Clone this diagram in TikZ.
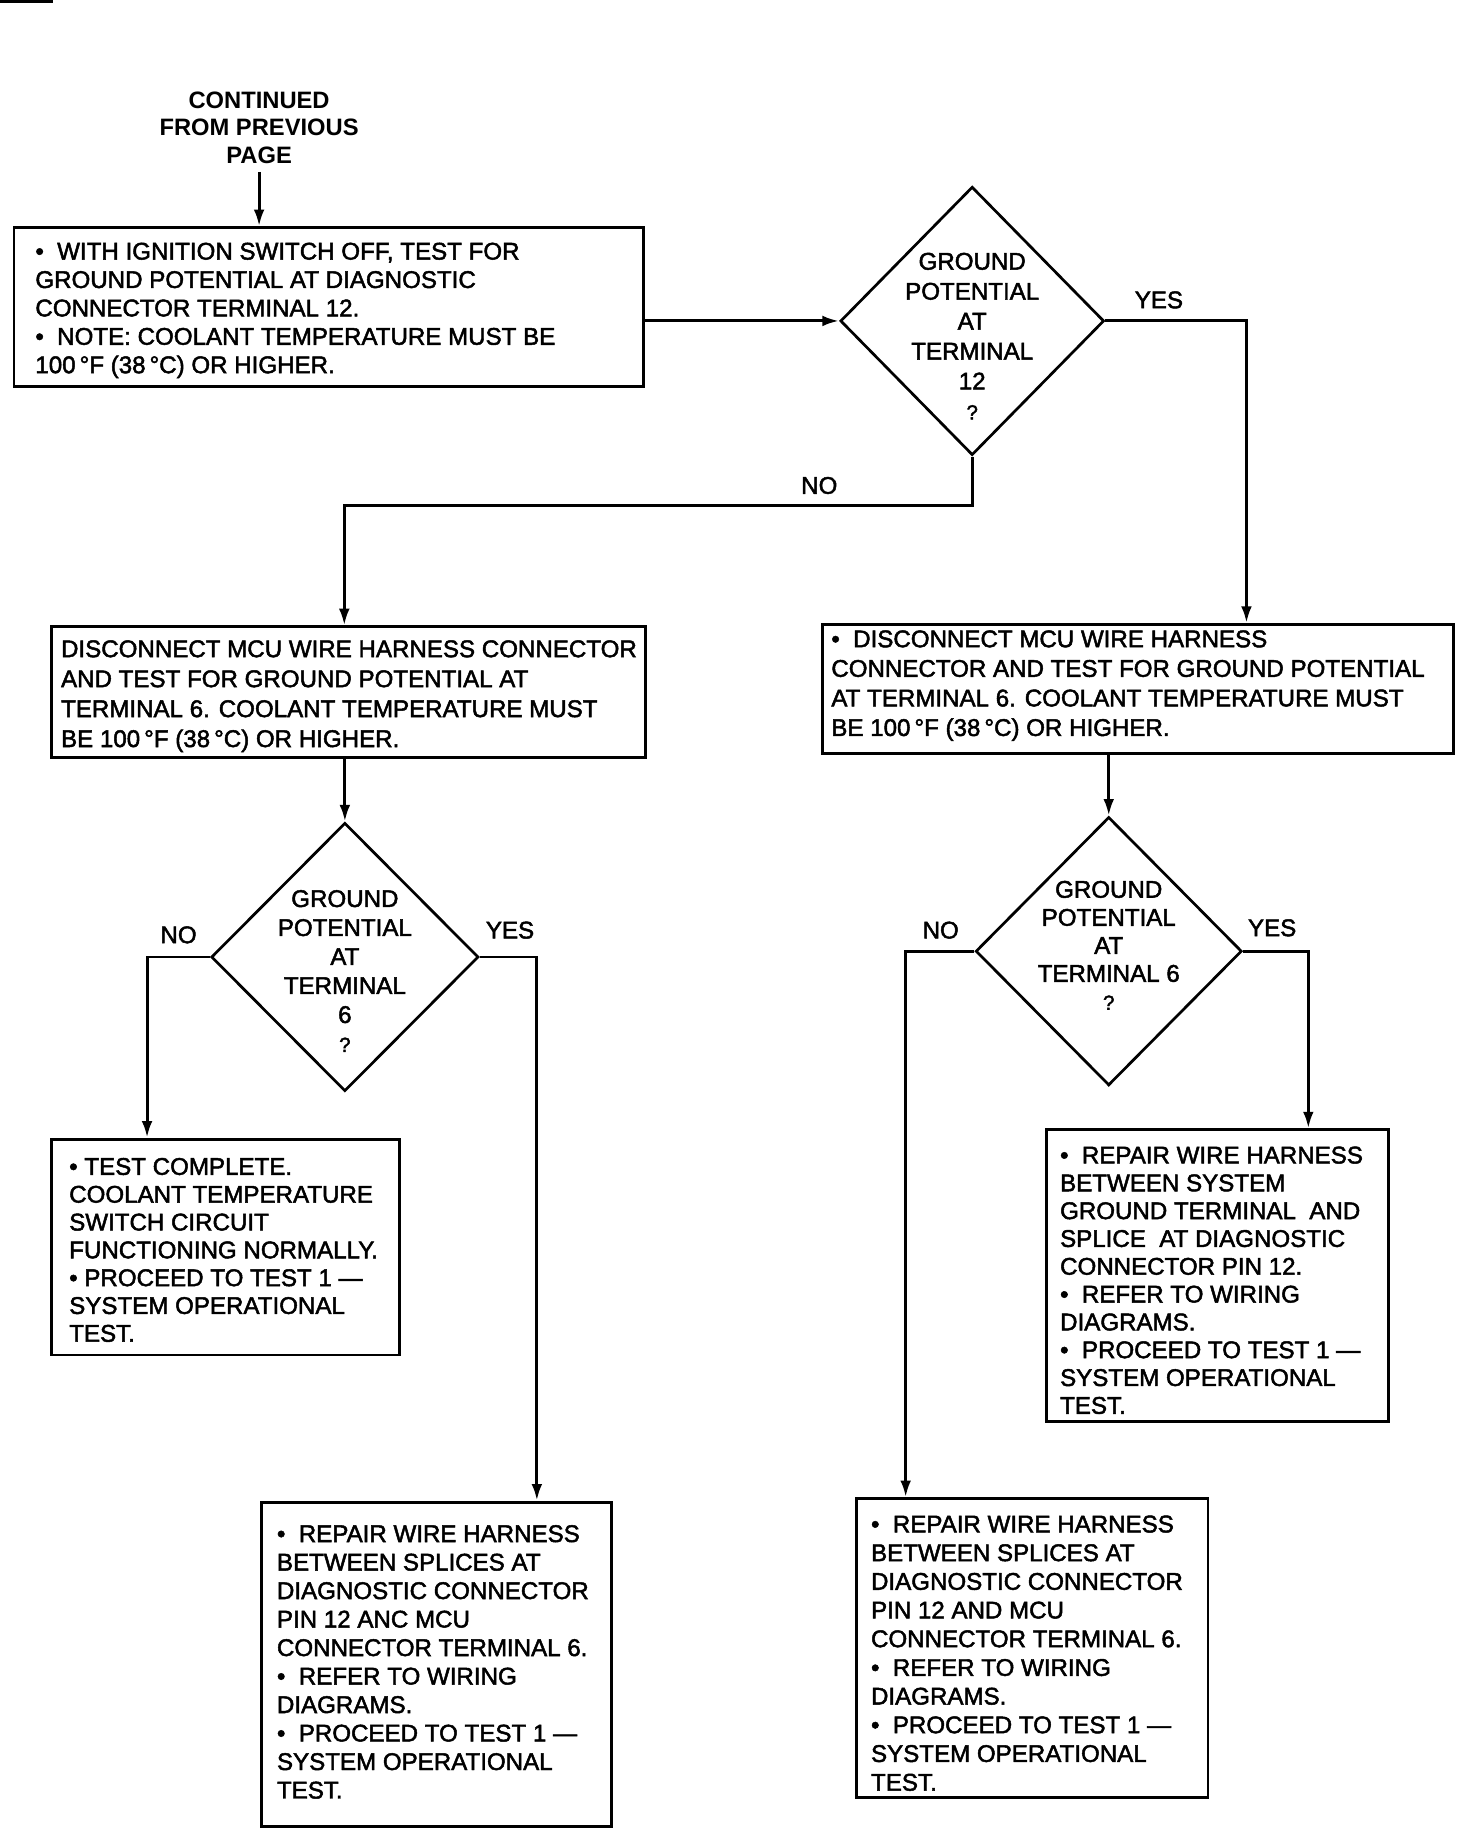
\documentclass[tikz,border=0pt]{standalone}
\usepackage{fontspec}
\setmainfont{Liberation Sans}
\newfontfamily\medfont{Liberation Sans}[RawFeature={embolden=2}]
\usetikzlibrary{arrows.meta,shapes.geometric}
\newcommand{\myfs}[1]{\medfont\fontsize{12.4}{#1pt}\selectfont}
\begin{document}
\begin{tikzpicture}[x=0.6pt,y=-0.6pt,
  box/.style={draw, line width=1.5pt, inner sep=0pt, rectangle},
  dia/.style={draw, line width=1.4pt, inner sep=0pt, diamond},
  txt/.style={align=left, inner sep=0pt, anchor=west},
  dtxt/.style={align=center, inner sep=0pt},
  lbl/.style={inner sep=0pt, font=\myfs{14}},
  conn/.style={line width=1.5pt, -{Latex[length=8.5pt,width=5.5pt]}}]
\useasboundingbox (0,0) rectangle (1261.3,1568);
\draw[line width=1.3pt] (0,1.5) -- (45,1.5);

\node[dtxt, font=\bfseries\fontsize{12.2}{14.1pt}\selectfont, inner sep=4pt] (hdr) at (222,109.5) {CONTINUED\\FROM PREVIOUS\\PAGE};

% boxes
\node[box, minimum width=323.4pt, minimum height=81.6pt] (b1) at (281.5,263) {};
\node[txt, font=\myfs{14.6}] (b1t) at (30,266) {•\ \ WITH IGNITION SWITCH OFF, TEST FOR\\GROUND POTENTIAL AT DIAGNOSTIC\\CONNECTOR TERMINAL 12.\\•\ \ NOTE: COOLANT TEMPERATURE MUST BE\\100\,°F (38\,°C) OR HIGHER.};

\node[box, minimum width=305.4pt, minimum height=67.2pt] (b2) at (298.5,593) {};
\node[txt, font=\myfs{15.4}] (b2t) at (52,596.5) {DISCONNECT MCU WIRE HARNESS CONNECTOR\\AND TEST FOR GROUND POTENTIAL AT\\TERMINAL 6. COOLANT TEMPERATURE MUST\\BE 100\,°F (38\,°C) OR HIGHER.};

\node[box, minimum width=324pt, minimum height=66.6pt] (b3) at (975,590.5) {};
\node[txt, font=\myfs{15.2}] (b3t) at (712,587.5) {•\ \ DISCONNECT MCU WIRE HARNESS\\CONNECTOR AND TEST FOR GROUND POTENTIAL\\AT TERMINAL 6. COOLANT TEMPERATURE MUST\\BE 100\,°F (38\,°C) OR HIGHER.};

\node[box, minimum width=178.8pt, minimum height=111pt] (b4) at (193,1068.5) {};
\node[txt, font=\myfs{14.3}] (b4t) at (59,1071) {• TEST COMPLETE.\\COOLANT TEMPERATURE\\SWITCH CIRCUIT\\FUNCTIONING NORMALLY.\\• PROCEED TO TEST 1 —\\SYSTEM OPERATIONAL\\TEST.};

\node[box, minimum width=180pt, minimum height=166.8pt] (b5) at (374,1426) {};
\node[txt, font=\myfs{14.65}] (b5t) at (237,1424) {•\ \ REPAIR WIRE HARNESS\\BETWEEN SPLICES AT\\DIAGNOSTIC CONNECTOR\\PIN 12 ANC MCU\\CONNECTOR TERMINAL 6.\\•\ \ REFER TO WIRING\\DIAGRAMS.\\•\ \ PROCEED TO TEST 1 —\\SYSTEM OPERATIONAL\\TEST.};

\node[box, minimum width=175.8pt, minimum height=150pt] (b6) at (1043.5,1093) {};
\node[txt, font=\myfs{14.3}] (b6t) at (908,1097) {•\ \ REPAIR WIRE HARNESS\\BETWEEN SYSTEM\\GROUND TERMINAL\ \ AND\\SPLICE\ \ AT DIAGNOSTIC\\CONNECTOR PIN 12.\\•\ \ REFER TO WIRING\\DIAGRAMS.\\•\ \ PROCEED TO TEST 1 —\\SYSTEM OPERATIONAL\\TEST.};

\node[box, minimum width=180.6pt, minimum height=153.6pt] (b7) at (884.5,1412) {};
\node[txt, font=\myfs{14.75}] (b7t) at (746,1416.5) {•\ \ REPAIR WIRE HARNESS\\BETWEEN SPLICES AT\\DIAGNOSTIC CONNECTOR\\PIN 12 AND MCU\\CONNECTOR TERMINAL 6.\\•\ \ REFER TO WIRING\\DIAGRAMS.\\•\ \ PROCEED TO TEST 1 —\\SYSTEM OPERATIONAL\\TEST.};

% diamonds
\node[dia, minimum width=135.6pt, minimum height=138pt] (d1) at (833,275) {};
\node[dtxt, font=\myfs{15.4}] (d1t) at (833,288) {GROUND\\POTENTIAL\\AT\\TERMINAL\\12\\{\fontsize{10.5}{12}\selectfont ?}};

\node[dia, minimum width=137.4pt, minimum height=138pt] (d2) at (295.5,820) {};
\node[dtxt, font=\myfs{14.9}] (d2t) at (295.5,832) {GROUND\\POTENTIAL\\AT\\TERMINAL\\6\\{\fontsize{10.5}{12}\selectfont ?}};

\node[dia, minimum width=136.8pt, minimum height=138pt] (d3) at (950,815) {};
\node[dtxt, font=\myfs{14.4}] (d3t) at (950,810) {GROUND\\POTENTIAL\\AT\\TERMINAL 6\\{\fontsize{10.5}{12}\selectfont ?}};

% labels
\node[lbl] (l1) at (993,257) {YES};
\node[lbl] (l2) at (702,416) {NO};
\node[lbl] (l3) at (153,801) {NO};
\node[lbl] (l4) at (437,797) {YES};
\node[lbl] (l5) at (806,797) {NO};
\node[lbl] (l6) at (1090,795) {YES};

% turning points
\coordinate (yes1c) at (1068,0);
\coordinate (no1c) at (295,433);
\coordinate (no2c) at (126,0);
\coordinate (yes2c) at (460,0);
\coordinate (no3c) at (776,0);
\coordinate (yes3c) at (1121,0);

% connectors
\draw[conn] (hdr.south) -- (hdr.south |- b1.north);
\draw[conn] (b1.east |- d1.west) -- (d1.west);
\draw[conn] (d1.east) -| (yes1c |- b3.north);
\draw[conn] (d1.south) |- (no1c) -- (no1c |- b2.north);
\draw[conn] (d2.north |- b2.south) -- (d2.north);
\draw[conn] (d2.west) -| (no2c |- b4.north);
\draw[conn] (d2.east) -| (yes2c |- b5.north);
\draw[conn] (d3.north |- b3.south) -- (d3.north);
\draw[conn] (d3.west) -| (no3c |- b7.north);
\draw[conn] (d3.east) -| (yes3c |- b6.north);
\end{tikzpicture}
\end{document}
